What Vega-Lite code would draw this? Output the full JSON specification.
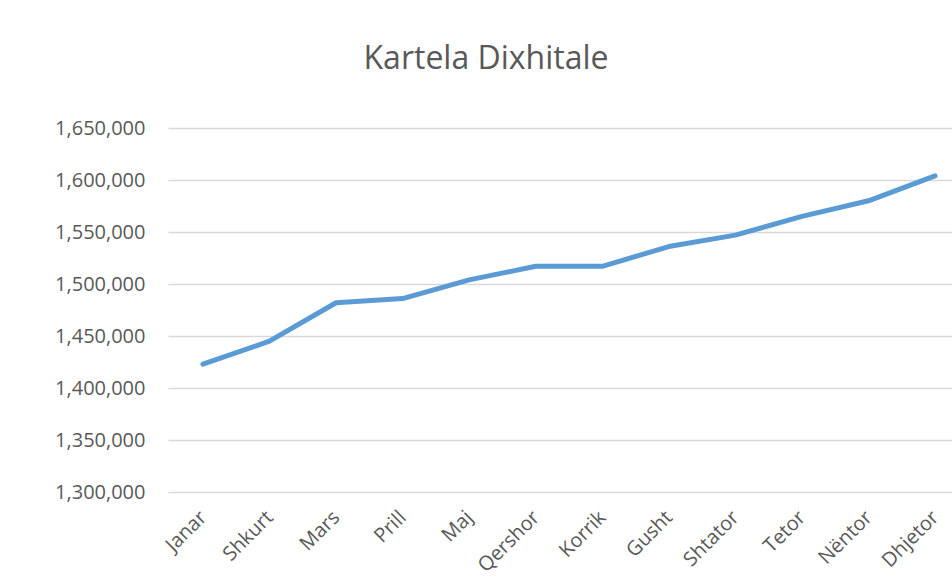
{
  "$schema": "https://vega.github.io/schema/vega-lite/v6.json",
  "autosize": "none",
  "width": 784,
  "height": 364,
  "padding": {"left": 168, "top": 128, "right": 0, "bottom": 91},
  "background": "white",
  "title": {
    "text": "Kartela Dixhitale",
    "font": "Open Sans",
    "fontSize": 32,
    "fontWeight": "normal",
    "color": "#595959",
    "anchor": "middle",
    "dx": -74,
    "offset": 42
  },
  "data": {
    "values": [
      {"muaji": "Janar", "vlera": 1423000},
      {"muaji": "Shkurt", "vlera": 1445000},
      {"muaji": "Mars", "vlera": 1482000},
      {"muaji": "Prill", "vlera": 1486000},
      {"muaji": "Maj", "vlera": 1504000},
      {"muaji": "Qershor", "vlera": 1517000},
      {"muaji": "Korrik", "vlera": 1517000},
      {"muaji": "Gusht", "vlera": 1536000},
      {"muaji": "Shtator", "vlera": 1547000},
      {"muaji": "Tetor", "vlera": 1565000},
      {"muaji": "Nëntor", "vlera": 1580000},
      {"muaji": "Dhjetor", "vlera": 1604000}
    ]
  },
  "mark": {"type": "line", "color": "#5B9BD5", "strokeWidth": 5, "strokeCap": "round", "strokeJoin": "round"},
  "encoding": {
    "x": {
      "field": "muaji",
      "type": "ordinal",
      "sort": null,
      "scale": {"type": "point", "padding": 0.39, "align": 0.673},
      "axis": {
        "title": null,
        "labelAngle": -45,
        "labelAlign": "right",
        "labelBaseline": "middle",
        "labelFont": "Open Sans",
        "labelFontSize": 20,
        "labelColor": "#595959",
        "labelPadding": 22,
        "ticks": false,
        "domain": false,
        "grid": false
      }
    },
    "y": {
      "field": "vlera",
      "type": "quantitative",
      "scale": {"domain": [1300000, 1650000], "zero": false, "nice": false},
      "axis": {
        "title": null,
        "values": [1300000, 1350000, 1400000, 1450000, 1500000, 1550000, 1600000, 1650000],
        "format": ",d",
        "labelFont": "Open Sans",
        "labelFontSize": 20,
        "labelColor": "#595959",
        "labelPadding": 23,
        "ticks": false,
        "domain": false,
        "grid": true,
        "gridColor": "#d9d9d9",
        "gridWidth": 1.5
      }
    }
  },
  "config": {"view": {"stroke": null}}
}
